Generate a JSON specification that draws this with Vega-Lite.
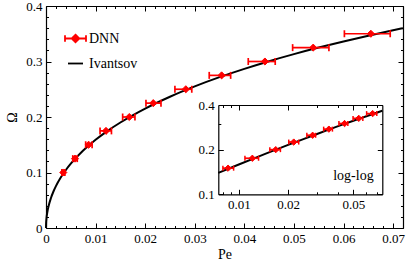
{
"$schema": "https://vega.github.io/schema/vega-lite/v6.json",
"width": 357,
"height": 222,
"autosize": {"type": "none"},
"padding": {"left": 46, "top": 6, "right": 12, "bottom": 32},
"background": "white",
"config": {
  "view": {"stroke": null},
  "font": "Liberation Serif",
  "legend": {"labelFont": "Liberation Serif", "labelFontSize": 14, "labelColor": "black"},
  "axis": {"grid": false, "labelFont": "Liberation Serif", "titleFont": "Liberation Serif", "labelColor": "black", "titleColor": "black", "tickColor": "black", "domainColor": "black", "titleFontWeight": "normal", "labelFlush": false, "labelOverlap": false, "labelFontSize": 13, "titleFontSize": 14, "domainWidth": 1.2, "tickWidth": 1}
},
"datasets": {
  "dnn": [
    {"Omega": 0.1, "Pe": 0.00349, "lo": 0.0032, "hi": 0.0038},
    {"Omega": 0.125, "Pe": 0.00585, "lo": 0.0054, "hi": 0.0063},
    {"Omega": 0.15, "Pe": 0.0086, "lo": 0.0080, "hi": 0.0093},
    {"Omega": 0.175, "Pe": 0.0121, "lo": 0.0109, "hi": 0.0132},
    {"Omega": 0.2, "Pe": 0.0168, "lo": 0.01546, "hi": 0.01794},
    {"Omega": 0.225, "Pe": 0.02163, "lo": 0.02016, "hi": 0.02319},
    {"Omega": 0.25, "Pe": 0.0282, "lo": 0.0260, "hi": 0.0294},
    {"Omega": 0.275, "Pe": 0.03542, "lo": 0.03292, "hi": 0.03724},
    {"Omega": 0.3, "Pe": 0.04415, "lo": 0.04079, "hi": 0.04623},
    {"Omega": 0.325, "Pe": 0.05389, "lo": 0.04974, "hi": 0.05706},
    {"Omega": 0.35, "Pe": 0.06552, "lo": 0.06018, "hi": 0.06942}
  ],
  "ivantsov": [
    {"Pe": 0, "Omega": 0},
    {"Pe": 0.00002, "Omega": 0.00789},
    {"Pe": 0.0001, "Omega": 0.01753},
    {"Pe": 0.0003, "Omega": 0.03012},
    {"Pe": 0.0005, "Omega": 0.03865},
    {"Pe": 0.001, "Omega": 0.05411},
    {"Pe": 0.0015, "Omega": 0.06575},
    {"Pe": 0.002, "Omega": 0.07542},
    {"Pe": 0.003, "Omega": 0.09136},
    {"Pe": 0.004, "Omega": 0.10453},
    {"Pe": 0.005, "Omega": 0.11593},
    {"Pe": 0.0075, "Omega": 0.13958},
    {"Pe": 0.01, "Omega": 0.1589},
    {"Pe": 0.0125, "Omega": 0.17545},
    {"Pe": 0.015, "Omega": 0.19006},
    {"Pe": 0.02, "Omega": 0.21518},
    {"Pe": 0.025, "Omega": 0.23651},
    {"Pe": 0.03, "Omega": 0.25514},
    {"Pe": 0.035, "Omega": 0.27175},
    {"Pe": 0.04, "Omega": 0.28679},
    {"Pe": 0.045, "Omega": 0.30055},
    {"Pe": 0.05, "Omega": 0.31325},
    {"Pe": 0.055, "Omega": 0.32506},
    {"Pe": 0.06, "Omega": 0.33609},
    {"Pe": 0.065, "Omega": 0.34646},
    {"Pe": 0.07, "Omega": 0.35623},
    {"Pe": 0.072, "Omega": 0.35999},
    {"Pe": 0.075, "Omega": 0.36549}
  ]
},
"layer": [
  {
    "layer": [
      {
        "data": {"name": "ivantsov"},
        "transform": [{"filter": "datum.Pe <= 0.072"}],
        "mark": {"type": "line", "strokeWidth": 2, "interpolate": "monotone"},
        "encoding": {
          "x": {"field": "Pe", "type": "quantitative", "title": "Pe", "scale": {"domain": [0, 0.072], "nice": false, "zero": false}, "axis": {"orient": "bottom", "values": [0, 0.01, 0.02, 0.03, 0.04, 0.05, 0.06, 0.07], "format": "~g", "ticks": false, "labelPadding": 4, "titlePadding": 2}},
          "y": {"field": "Omega", "type": "quantitative", "title": "Ω", "scale": {"domain": [0, 0.4], "nice": false, "zero": false}, "axis": {"orient": "left", "values": [0, 0.1, 0.2, 0.3, 0.4], "format": "~g", "ticks": false, "labelPadding": 4, "titlePadding": 6}},
          "color": {"datum": "Ivantsov", "type": "nominal", "scale": {"domain": ["DNN", "Ivantsov"], "range": ["#ff0000", "#000000"]},
            "legend": {"orient": "none", "legendX": 21, "legendY": 24, "title": null, "padding": 0, "labelFontSize": 14, "labelFont": "Liberation Serif", "labelColor": "black", "labelOffset": 5, "rowPadding": 9, "symbolSize": 441, "symbolStrokeWidth": 1.8,
              "encode": {
                "labels": {"update": {"font": {"value": "Liberation Serif"}, "fontSize": {"value": 14}, "fill": {"value": "black"}}},
                "symbols": {"update": {
                "shape": {"signal": "datum.value === 'DNN' ? 'M-1,0L1,0M-1,-0.32L-1,0.32M1,-0.32L1,0.32M0,-0.36L0.36,0L0,0.36L-0.36,0Z' : 'stroke'"},
                "size": {"signal": "datum.value === 'DNN' ? 441 : 225"},
                "fill": {"signal": "datum.value === 'DNN' ? '#ff0000' : 'transparent'"},
                "stroke": {"signal": "datum.value === 'DNN' ? '#ff0000' : '#000000'"},
                "strokeWidth": {"value": 1.8},
                "opacity": {"value": 1}
              }}}}}
        }
      },
      {
        "data": {"name": "dnn"},
        "mark": {"type": "rule", "color": "#ff0000", "strokeWidth": 1.7},
        "encoding": {
          "x": {"field": "lo", "type": "quantitative", "title": "Pe"},
          "x2": {"field": "hi"},
          "y": {"field": "Omega", "type": "quantitative", "title": "Ω"}
        }
      },
      {
        "data": {"name": "dnn"},
        "mark": {"type": "tick", "orient": "vertical", "color": "#ff0000", "size": 7, "thickness": 1.7, "opacity": 1},
        "encoding": {
          "x": {"field": "lo", "type": "quantitative", "title": "Pe"},
          "y": {"field": "Omega", "type": "quantitative", "title": "Ω"}
        }
      },
      {
        "data": {"name": "dnn"},
        "mark": {"type": "tick", "orient": "vertical", "color": "#ff0000", "size": 7, "thickness": 1.7, "opacity": 1},
        "encoding": {
          "x": {"field": "hi", "type": "quantitative", "title": "Pe"},
          "y": {"field": "Omega", "type": "quantitative", "title": "Ω"}
        }
      },
      {
        "data": {"name": "dnn"},
        "mark": {"type": "point", "shape": "diamond", "filled": true, "size": 50, "stroke": "#ff0000", "strokeWidth": 1, "opacity": 1},
        "encoding": {
          "x": {"field": "Pe", "type": "quantitative", "title": "Pe"},
          "y": {"field": "Omega", "type": "quantitative", "title": "Ω"},
          "color": {"datum": "DNN", "type": "nominal"}
        }
      }
    ]
  },
  {
    "data": {"name": "dnn"},
    "mark": {"type": "point", "opacity": 0},
    "encoding": {
      "x": {"field": "Pe", "type": "quantitative", "scale": {"domain": [0, 0.072], "nice": false, "zero": false},
        "axis": {"orient": "bottom", "labels": false, "domain": false, "title": null,
          "values": [0, 0.002, 0.004, 0.006, 0.008, 0.01, 0.012, 0.014, 0.016, 0.018, 0.02, 0.022, 0.024, 0.026, 0.028, 0.03, 0.032, 0.034, 0.036, 0.038, 0.04, 0.042, 0.044, 0.046, 0.048, 0.05, 0.052, 0.054, 0.056, 0.058, 0.06, 0.062, 0.064, 0.066, 0.068, 0.07, 0.072],
          "tickSize": {"condition": {"test": "abs(datum.value*100 - round(datum.value*100)) < 0.01", "value": -5}, "value": -2.5}}},
      "y": {"field": "Omega", "type": "quantitative", "scale": {"domain": [0, 0.4], "nice": false, "zero": false},
        "axis": {"orient": "left", "labels": false, "domain": false, "title": null,
          "values": [0, 0.02, 0.04, 0.06, 0.08, 0.1, 0.12, 0.14, 0.16, 0.18, 0.2, 0.22, 0.24, 0.26, 0.28, 0.3, 0.32, 0.34, 0.36, 0.38, 0.4],
          "tickSize": {"condition": {"test": "abs(datum.value*10 - round(datum.value*10)) < 0.01", "value": -5}, "value": -2.5}}}
    }
  },
  {
    "data": {"name": "dnn"},
    "mark": {"type": "point", "opacity": 0},
    "encoding": {
      "x": {"field": "Pe", "type": "quantitative", "scale": {"domain": [0, 0.072], "nice": false, "zero": false},
        "axis": {"orient": "top", "labels": false, "domain": true, "title": null,
          "values": [0, 0.002, 0.004, 0.006, 0.008, 0.01, 0.012, 0.014, 0.016, 0.018, 0.02, 0.022, 0.024, 0.026, 0.028, 0.03, 0.032, 0.034, 0.036, 0.038, 0.04, 0.042, 0.044, 0.046, 0.048, 0.05, 0.052, 0.054, 0.056, 0.058, 0.06, 0.062, 0.064, 0.066, 0.068, 0.07, 0.072],
          "tickSize": {"condition": {"test": "abs(datum.value*100 - round(datum.value*100)) < 0.01", "value": -5}, "value": -2.5}}},
      "y": {"field": "Omega", "type": "quantitative", "scale": {"domain": [0, 0.4], "nice": false, "zero": false},
        "axis": {"orient": "right", "labels": false, "domain": true, "title": null,
          "values": [0, 0.02, 0.04, 0.06, 0.08, 0.1, 0.12, 0.14, 0.16, 0.18, 0.2, 0.22, 0.24, 0.26, 0.28, 0.3, 0.32, 0.34, 0.36, 0.38, 0.4],
          "tickSize": {"condition": {"test": "abs(datum.value*10 - round(datum.value*10)) < 0.01", "value": -5}, "value": -2.5}}}
    }
  },
  {
    "layer": [
      {
        "data": {"name": "ivantsov"},
        "transform": [{"filter": "datum.Pe >= 0.0075 && datum.Pe <= 0.075"}],
        "mark": {"type": "line", "color": "black", "strokeWidth": 2},
        "encoding": {
          "x": {"field": "Pe", "type": "quantitative", "title": null, "scale": {"type": "log", "domain": [0.0075, 0.075], "range": [172.3, 336.3], "nice": false},
            "axis": {"orient": "bottom", "offset": -33.7, "values": [0.01, 0.02, 0.05], "format": "~g", "ticks": false, "labelPadding": 4, "title": null}},
          "y": {"field": "Omega", "type": "quantitative", "title": null, "scale": {"type": "log", "domain": [0.1, 0.4], "range": [188.3, 99], "nice": false},
            "axis": {"orient": "left", "offset": -172.3, "values": [0.1, 0.2, 0.4], "format": "~g", "ticks": false, "labelPadding": 4, "title": null}}
        }
      },
      {
        "data": {"name": "dnn"},
        "transform": [{"filter": "datum.Pe >= 0.0075"}],
        "mark": {"type": "rule", "color": "#ff0000", "strokeWidth": 1.7},
        "encoding": {
          "x": {"field": "lo", "type": "quantitative", "title": null},
          "x2": {"field": "hi"},
          "y": {"field": "Omega", "type": "quantitative", "title": null}
        }
      },
      {
        "data": {"name": "dnn"},
        "transform": [{"filter": "datum.Pe >= 0.0075"}],
        "mark": {"type": "tick", "orient": "vertical", "color": "#ff0000", "size": 5, "thickness": 1.5, "opacity": 1},
        "encoding": {
          "x": {"field": "lo", "type": "quantitative", "title": null},
          "y": {"field": "Omega", "type": "quantitative", "title": null}
        }
      },
      {
        "data": {"name": "dnn"},
        "transform": [{"filter": "datum.Pe >= 0.0075"}],
        "mark": {"type": "tick", "orient": "vertical", "color": "#ff0000", "size": 5, "thickness": 1.5, "opacity": 1},
        "encoding": {
          "x": {"field": "hi", "type": "quantitative", "title": null},
          "y": {"field": "Omega", "type": "quantitative", "title": null}
        }
      },
      {
        "data": {"name": "dnn"},
        "transform": [{"filter": "datum.Pe >= 0.0075"}],
        "mark": {"type": "point", "shape": "diamond", "filled": true, "size": 40, "color": "#ff0000", "stroke": "#ff0000", "strokeWidth": 1, "opacity": 1},
        "encoding": {
          "x": {"field": "Pe", "type": "quantitative", "title": null},
          "y": {"field": "Omega", "type": "quantitative", "title": null}
        }
      },
      {
        "data": {"values": [{}]},
        "mark": {"type": "text", "font": "Liberation Serif", "fontSize": 14, "color": "black", "align": "center", "baseline": "middle"},
        "encoding": {
          "x": {"datum": 0.05, "type": "quantitative"},
          "y": {"datum": 0.132, "type": "quantitative"},
          "text": {"value": "log-log"}
        }
      }
    ]
  },
  {
    "data": {"name": "dnn"},
    "mark": {"type": "point", "opacity": 0},
    "encoding": {
      "x": {"field": "Pe", "type": "quantitative", "scale": {"type": "log", "domain": [0.0075, 0.075], "range": [172.3, 336.3], "nice": false},
        "axis": {"orient": "bottom", "offset": -33.7, "labels": false, "domain": false, "title": null,
          "values": [0.008, 0.009, 0.01, 0.02, 0.03, 0.04, 0.05, 0.06, 0.07],
          "tickSize": {"condition": {"test": "datum.value == 0.01 || datum.value == 0.02 || datum.value == 0.05", "value": -5}, "value": -2.5}}},
      "y": {"field": "Omega", "type": "quantitative", "scale": {"type": "log", "domain": [0.1, 0.4], "range": [188.3, 99], "nice": false},
        "axis": {"orient": "left", "offset": -172.3, "labels": false, "domain": false, "title": null,
          "values": [0.1, 0.2, 0.3, 0.4],
          "tickSize": {"condition": {"test": "datum.value == 0.3", "value": -2.5}, "value": -5}}}
    }
  },
  {
    "data": {"name": "dnn"},
    "mark": {"type": "point", "opacity": 0},
    "encoding": {
      "x": {"field": "Pe", "type": "quantitative", "scale": {"type": "log", "domain": [0.0075, 0.075], "range": [172.3, 336.3], "nice": false},
        "axis": {"orient": "top", "offset": -99, "labels": false, "domain": true, "title": null,
          "values": [0.008, 0.009, 0.01, 0.02, 0.03, 0.04, 0.05, 0.06, 0.07],
          "tickSize": {"condition": {"test": "datum.value == 0.01 || datum.value == 0.02 || datum.value == 0.05", "value": -5}, "value": -2.5}}},
      "y": {"field": "Omega", "type": "quantitative", "scale": {"type": "log", "domain": [0.1, 0.4], "range": [188.3, 99], "nice": false},
        "axis": {"orient": "right", "offset": -20.7, "labels": false, "domain": true, "title": null,
          "values": [0.1, 0.2, 0.3, 0.4],
          "tickSize": {"condition": {"test": "datum.value == 0.3", "value": -2.5}, "value": -5}}}
    }
  }
],
"resolve": {"scale": {"x": "independent", "y": "independent"}}
}
